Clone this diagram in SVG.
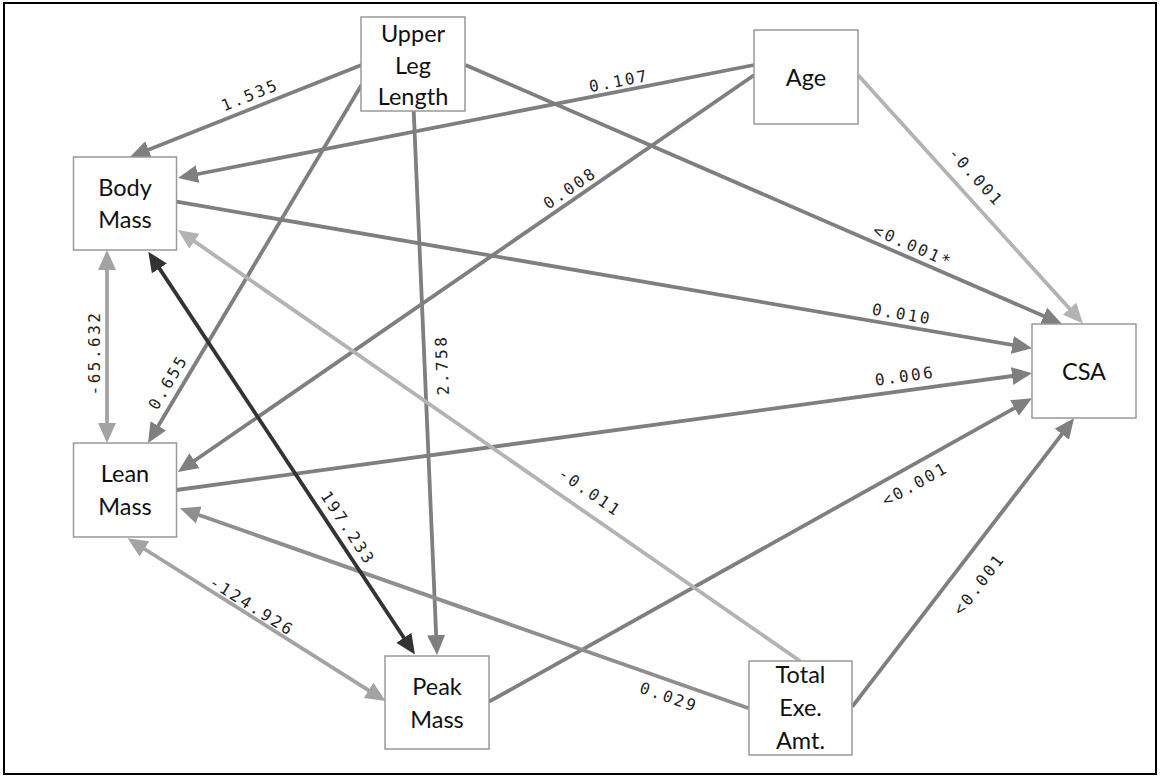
<svg xmlns="http://www.w3.org/2000/svg" width="1160" height="777" viewBox="0 0 1160 777">
<style>
.node rect{fill:#fff;stroke:#999;stroke-width:1.5}
.node text{font-family:Lato,"Open Sans",sans-serif;font-size:23.5px;fill:#111;text-anchor:middle}
.e{fill:none;stroke-width:3.8}
.m{stroke:#7f7f7f}
.l{stroke:#b3b3b3}
.lm{stroke:#a3a3a3}
.md{stroke:#8f8f8f}
.d{stroke:#333}
.lab{font-family:"DejaVu Sans Mono",monospace;font-size:16px;letter-spacing:2.5px;fill:#222;text-anchor:middle}
</style>
<defs>
<marker id="am" viewBox="0 0 20 18" markerWidth="20" markerHeight="18" refX="15" refY="9" orient="auto-start-reverse" markerUnits="userSpaceOnUse"><path d="M0,0 L20,9 L0,18 z" fill="#7f7f7f"/></marker>
<marker id="al" viewBox="0 0 20 18" markerWidth="20" markerHeight="18" refX="15" refY="9" orient="auto-start-reverse" markerUnits="userSpaceOnUse"><path d="M0,0 L20,9 L0,18 z" fill="#b3b3b3"/></marker>
<marker id="alm" viewBox="0 0 20 18" markerWidth="20" markerHeight="18" refX="15" refY="9" orient="auto-start-reverse" markerUnits="userSpaceOnUse"><path d="M0,0 L20,9 L0,18 z" fill="#a3a3a3"/></marker>
<marker id="amd" viewBox="0 0 20 18" markerWidth="20" markerHeight="18" refX="15" refY="9" orient="auto-start-reverse" markerUnits="userSpaceOnUse"><path d="M0,0 L20,9 L0,18 z" fill="#8f8f8f"/></marker>
<marker id="ad" viewBox="0 0 20 18" markerWidth="20" markerHeight="18" refX="15" refY="9" orient="auto-start-reverse" markerUnits="userSpaceOnUse"><path d="M0,0 L20,9 L0,18 z" fill="#333"/></marker>
</defs>
<rect x="4" y="3" width="1152" height="771" fill="#fff" stroke="#000" stroke-width="2"/>
<g id="connectors">
<line class="e m" x1="361.5" y1="65" x2="134.6" y2="155.2" marker-end="url(#am)"/>
<line class="e m" x1="754" y1="65" x2="182.9" y2="177" marker-end="url(#am)"/>
<line class="e m" x1="361.5" y1="85" x2="150.6" y2="438.7" marker-end="url(#am)"/>
<line class="e m" x1="413.7" y1="111" x2="436.8" y2="650" marker-end="url(#am)"/>
<line class="e m" x1="465.5" y1="65" x2="1057.4" y2="322" marker-end="url(#am)"/>
<line class="e m" x1="754.3" y1="75" x2="182.1" y2="469.2" marker-end="url(#am)"/>
<line class="e l" x1="858" y1="75" x2="1079.6" y2="319.8" marker-end="url(#al)"/>
<line class="e m" x1="176.5" y1="201.7" x2="1027.1" y2="347.5" marker-end="url(#am)"/>
<line class="e m" x1="176.5" y1="490" x2="1027" y2="374" marker-end="url(#am)"/>
<line class="e m" x1="489" y1="701.7" x2="1027.6" y2="400.7" marker-end="url(#am)"/>
<line class="e m" x1="852.3" y1="706.7" x2="1071" y2="422.3" marker-end="url(#am)"/>
<line class="e l" x1="800" y1="661" x2="182.1" y2="232.8" marker-end="url(#al)"/>
<line class="e md" x1="748.7" y1="708.3" x2="184.7" y2="510" marker-end="url(#amd)"/>
<line class="e lm" x1="107" y1="255" x2="107" y2="438" marker-start="url(#alm)" marker-end="url(#alm)"/>
<line class="e d" x1="151.1" y1="255.9" x2="412.2" y2="650.3" marker-start="url(#ad)" marker-end="url(#ad)"/>
<line class="e lm" x1="131.8" y1="541" x2="381.3" y2="698.3" marker-start="url(#alm)" marker-end="url(#alm)"/>
<text class="lab" transform="translate(250,95) rotate(-21.7)" dy="0.35em">1.535</text>
<text class="lab" transform="translate(619,81) rotate(-11.1)" dy="0.35em">0.107</text>
<text class="lab" transform="translate(168,382) rotate(-59.2)" dy="0.35em">0.655</text>
<text class="lab" transform="translate(442,365) rotate(-92.5)" dy="0.35em">2.758</text>
<text class="lab" transform="translate(913,246) rotate(23.5)" dy="0.35em">&lt;0.001*</text>
<text class="lab" transform="translate(570,188) rotate(-34.6)" dy="0.35em">0.008</text>
<text class="lab" transform="translate(976,177) rotate(47.8)" dy="0.35em">-0.001</text>
<text class="lab" transform="translate(902,314) rotate(9.7)" dy="0.35em">0.010</text>
<text class="lab" transform="translate(905,376) rotate(-7.8)" dy="0.35em">0.006</text>
<text class="lab" transform="translate(915,484) rotate(-29.2)" dy="0.35em">&lt;0.001</text>
<text class="lab" transform="translate(979,584) rotate(-52.4)" dy="0.35em">&lt;0.001</text>
<text class="lab" transform="translate(590,492) rotate(34.7)" dy="0.35em">-0.011</text>
<text class="lab" transform="translate(669,697) rotate(19.4)" dy="0.35em">0.029</text>
<text class="lab" transform="translate(94,353) rotate(-90)" dy="0.35em">-65.632</text>
<text class="lab" transform="translate(348,528) rotate(56.5)" dy="0.35em">197.233</text>
<text class="lab" transform="translate(252,606) rotate(32.2)" dy="0.35em">-124.926</text>
</g>
<g id="upper-leg-length" class="node"><rect x="361" y="17" width="104" height="94"/><text x="413" y="42">Upper</text><text x="413" y="74">Leg</text><text x="413" y="105">Length</text></g>
<g id="age" class="node"><rect x="754" y="30" width="104" height="94"/><text x="806" y="86">Age</text></g>
<g id="body-mass" class="node"><rect x="73.5" y="157" width="103" height="93"/><text x="125" y="196">Body</text><text x="125" y="228">Mass</text></g>
<g id="lean-mass" class="node"><rect x="73.5" y="443" width="103" height="94"/><text x="125" y="482">Lean</text><text x="125" y="515">Mass</text></g>
<g id="csa" class="node"><rect x="1032" y="324" width="104" height="94"/><text x="1084" y="380">CSA</text></g>
<g id="peak-mass" class="node"><rect x="385" y="656" width="104" height="93"/><text x="437" y="695">Peak</text><text x="437" y="728">Mass</text></g>
<g id="total-exe-amt" class="node"><rect x="749" y="661" width="103" height="94"/><text x="800.5" y="683">Total</text><text x="800.5" y="716">Exe.</text><text x="800.5" y="749">Amt.</text></g>
</svg>
